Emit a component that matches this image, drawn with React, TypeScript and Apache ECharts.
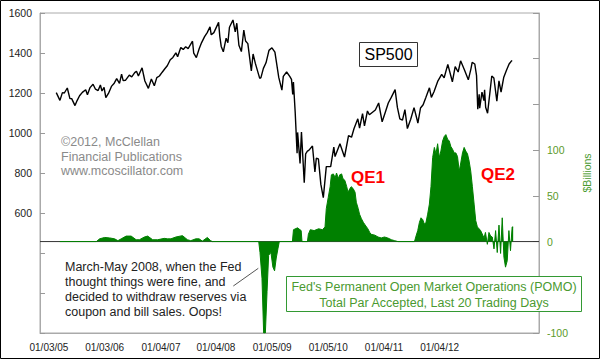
import React, { useEffect, useRef } from 'react';
import * as echarts from 'echarts';

// S&P 500 closes
const spDates = [
  '2005-01-03','2005-01-24','2005-02-07','2005-02-18','2005-03-07','2005-03-22','2005-04-01','2005-04-20',
  '2005-05-02','2005-05-16','2005-06-01','2005-06-20','2005-06-30','2005-07-15','2005-08-01','2005-08-15',
  '2005-08-30','2005-09-12','2005-09-21','2005-10-03','2005-10-13','2005-10-28','2005-11-14','2005-11-30',
  '2005-12-14','2005-12-30','2006-01-11','2006-01-20','2006-02-03','2006-02-24','2006-03-10','2006-03-27',
  '2006-04-06','2006-04-17','2006-05-08','2006-05-24','2006-06-13','2006-06-30','2006-07-17','2006-07-31',
  '2006-08-15','2006-08-31','2006-09-15','2006-09-29','2006-10-16','2006-10-31','2006-11-17','2006-11-27',
  '2006-12-15','2006-12-29','2007-01-12','2007-01-26','2007-02-20','2007-02-27','2007-03-14','2007-03-30',
  '2007-04-13','2007-04-30','2007-05-15','2007-05-31','2007-06-07','2007-06-22','2007-07-19','2007-07-26',
  '2007-08-03','2007-08-15','2007-08-31','2007-09-10','2007-09-19','2007-10-09','2007-10-22','2007-10-31',
  '2007-11-12','2007-11-26','2007-12-10','2007-12-20','2008-01-02','2008-01-22','2008-02-01','2008-02-14',
  '2008-03-10','2008-03-17','2008-03-31','2008-04-15','2008-05-02','2008-05-19','2008-06-05','2008-06-27',
  '2008-07-15','2008-07-23','2008-08-11','2008-08-29','2008-09-08','2008-09-15','2008-09-19','2008-09-29',
  '2008-10-10','2008-10-13','2008-10-27','2008-11-04','2008-11-20','2008-11-28','2008-12-08','2008-12-16',
  '2009-01-06','2009-01-20','2009-01-28','2009-02-09','2009-02-23','2009-03-09','2009-03-26','2009-04-20',
  '2009-05-08','2009-05-15','2009-06-12','2009-07-08','2009-07-31','2009-08-17','2009-08-31','2009-09-22',
  '2009-10-02','2009-10-19','2009-10-30','2009-11-16','2009-11-27','2009-12-31','2010-01-19','2010-02-08',
  '2010-02-26','2010-03-15','2010-04-01','2010-04-23','2010-05-06','2010-05-20','2010-06-04','2010-06-18',
  '2010-07-02','2010-07-21','2010-08-09','2010-08-27','2010-08-31','2010-09-15','2010-09-30','2010-10-15',
  '2010-11-05','2010-11-16','2010-12-01','2010-12-22','2011-01-14','2011-01-28','2011-02-18','2011-03-01',
  '2011-03-16','2011-04-01','2011-04-18','2011-05-02','2011-05-23','2011-06-15','2011-06-30','2011-07-07',
  '2011-07-22','2011-08-01','2011-08-08','2011-08-16','2011-08-19','2011-09-01','2011-09-12','2011-09-16',
  '2011-09-22','2011-10-03','2011-10-27','2011-11-08','2011-11-25','2011-12-07','2011-12-19','2012-01-03',
  '2012-01-19','2012-02-03','2012-02-17','2012-02-21'
];
const spValues = [
  1202,1163,1202,1200,1225,1172,1172,1137,
  1162,1186,1203,1216,1191,1227,1244,1219,
  1212,1240,1210,1228,1177,1198,1233,1249,
  1272,1248,1294,1262,1264,1289,1281,1302,
  1309,1285,1326,1260,1223,1270,1236,1277,
  1285,1304,1321,1336,1366,1378,1401,1381,
  1427,1418,1431,1422,1459,1399,1377,1421,
  1452,1482,1502,1531,1491,1502,1553,1482,
  1433,1406,1474,1451,1529,1565,1506,1549,
  1439,1407,1515,1460,1447,1310,1395,1348,
  1273,1277,1323,1351,1413,1426,1404,1278,
  1214,1283,1305,1283,1268,1193,1255,1106,
  899,1003,848,1005,752,896,909,913,
  935,805,874,870,743,677,832,832,
  929,882,946,880,987,979,1021,1071,
  1025,1097,1036,1110,1091,1115,1150,1056,
  1104,1150,1178,1217,1128,1071,1064,1117,
  1022,1069,1127,1065,1049,1125,1141,1176,
  1226,1178,1206,1258,1293,1276,1343,1306,
  1256,1332,1305,1361,1317,1266,1321,1353,
  1345,1287,1119,1193,1124,1204,1162,1216,
  1129,1099,1285,1275,1159,1261,1205,1277,
  1314,1345,1361,1362
];

// POMO, $ billions, last 20 trading days (date as decimal year)
const pomoYears = [
  2005.06,2005.633,2005.684,2005.762,2005.84,2005.918,2005.97,2006.021,2006.099,2006.177,
  2006.255,2006.306,2006.384,2006.436,2006.514,2006.592,2006.695,2006.747,2006.799,2006.877,
  2006.98,2007.058,2007.11,2007.188,2007.24,2007.291,2007.369,2007.421,2007.447,2008.173,
  2008.193,2008.224,2008.25,2008.277,2008.303,2008.328,2008.364,2008.395,2008.421,2008.447,
  2008.473,2008.495,2008.70,2008.717,2008.78,2008.837,2008.85,2008.935,2008.95,2008.98,
  2009.04,2009.11,2009.17,2009.21,2009.23,2009.26,2009.29,2009.31,2009.34,2009.37,
  2009.39,2009.42,2009.44,2009.47,2009.49,2009.52,2009.55,2009.57,2009.60,2009.62,
  2009.65,2009.68,2009.70,2009.73,2009.75,2009.78,2009.81,2009.83,2009.86,2009.88,
  2009.91,2009.93,2009.99,2010.04,2010.09,2010.14,2010.19,2010.25,2010.30,2010.35,
  2010.61,2010.634,2010.661,2010.687,2010.712,2010.739,2010.765,2010.79,2010.816,2010.843,
  2010.868,2010.894,2010.921,2010.946,2010.972,2010.998,2011.023,2011.05,2011.076,2011.101,
  2011.128,2011.154,2011.179,2011.205,2011.232,2011.257,2011.283,2011.31,2011.334,2011.361,
  2011.387,2011.412,2011.439,2011.465,2011.49,2011.516,2011.543,2011.568,2011.594,2011.621,
  2011.645,2011.698,2011.72,2011.75,2011.775,2011.801,2011.827,2011.854,2011.879,2011.905,
  2011.932,2011.957,2011.983,2012.009,2012.034,2012.061,2012.087,2012.112,2012.138,2012.154
];
const pomoValues = [
  0,0,3,4.5,4,3,1,3,6,6,
  2,2,5,6,2,2,3.5,3,3,5,
  6.5,2,1,3,3,0.5,4.5,1,0,0,
  -12,-40,-100,-100,-55,-15,-12,-28,-32,-18,
  -8,0,0,13,15,12,0,0,8,13,
  12,14,13,16,36,48,60,73,74,70,
  75,69,73,74,69,67,60,54,58,60,
  58,54,43,36,30,25,21,19,16,14,
  10,8,7,5,4,5,4,2,1,0,
  0,6,12,21,26,24,19,21,30,41,
  60,92,103,96,107,92,99,110,115,117,
  112,110,104,101,97,97,93,77,86,97,
  103,99,96,88,77,60,41,23,16,14,
  12,4,10,-3,10,6,5,-8,12,-12,
  18,-13,26,-17,-28,-21,12,-10,16,16
];

// x-axis tick labels and where they sit
const xLabelTexts = ['01/03/05','01/03/06','01/04/07','01/04/08','01/05/09','01/05/10','01/04/11','01/04/12'];
const xLabelYears = [2004.891, 2005.762, 2006.644, 2007.504, 2008.383, 2009.261, 2010.132, 2011.003];

const X_MIN = 2004.751;
const X_MAX = 2012.558;

function toYear(d: string): number {
  const [y, m, dd] = d.split('-').map(Number);
  const start = Date.UTC(y, 0, 1);
  const end = Date.UTC(y + 1, 0, 1);
  return y + (Date.UTC(y, m - 1, dd) - start) / (end - start);
}

const FONT = '"Liberation Sans", Arial, sans-serif';

export default function App() {
  const ref = useRef<HTMLDivElement>(null);
  useEffect(() => {
    document.body.style.margin = '0';
    if (!ref.current) return;
    const chart = echarts.init(ref.current, undefined, { renderer: 'svg' });
    const spData = spDates.map((d, i) => [toYear(d), spValues[i]]);
    const pomoData = pomoYears.map((y, i) => [y, pomoValues[i]]);
    const option: any = {
      animation: false,
      backgroundColor: '#fff',
      textStyle: { fontFamily: FONT },
      grid: { left: 40, right: 58, top: 13, bottom: 26, show: true, borderColor: '#aaa', borderWidth: 1 },
      xAxis: {
        type: 'value',
        min: X_MIN,
        max: X_MAX,
        axisLine: { show: true, lineStyle: { color: '#aaa' } },
        axisTick: { show: false },
        splitLine: { show: false },
        axisLabel: {
          customValues: xLabelYears,
          color: '#222',
          fontSize: 10,
          margin: 9,
          fontFamily: FONT,
          formatter: (v: number) => {
            const i = xLabelYears.findIndex((y) => Math.abs(y - v) < 0.001);
            return i >= 0 ? xLabelTexts[i] : '';
          },
        },
      },
      yAxis: [
        {
          type: 'value',
          min: 0,
          max: 1600,
          interval: 200,
          position: 'left',
          axisLine: { show: true, lineStyle: { color: '#aaa' } },
          axisTick: { show: true, inside: true, length: 5, lineStyle: { color: '#999' } },
          splitLine: { show: false },
          axisLabel: {
            color: '#222',
            fontSize: 10.5,
            margin: 8,
            fontFamily: FONT,
            formatter: (v: number) => (v >= 600 ? String(v) : ''),
          },
        },
        {
          type: 'value',
          min: -100,
          max: 250,
          interval: 50,
          position: 'right',
          name: '$Billions',
          nameLocation: 'middle',
          nameRotate: 90,
          nameGap: 42,
          nameTextStyle: { color: '#4a9a30', fontSize: 10.5, fontFamily: FONT },
          axisLine: { show: true, lineStyle: { color: '#aaa' } },
          axisTick: { show: true, inside: true, length: 6, lineStyle: { color: '#999' } },
          splitLine: { show: false },
          axisLabel: {
            color: '#5a9a2a',
            fontSize: 10.5,
            margin: 8,
            fontFamily: FONT,
            formatter: (v: number) => (v === -100 || v === 0 || v === 50 || v === 100 ? String(v) : ''),
          },
        },
      ],
      series: [
        {
          name: 'zero',
          type: 'line',
          yAxisIndex: 1,
          data: [[X_MIN, 0], [X_MAX, 0]],
          showSymbol: false,
          silent: true,
          lineStyle: { color: '#333', width: 1 },
          z: 1,
        },
        {
          name: 'POMO',
          type: 'line',
          yAxisIndex: 1,
          data: pomoData,
          showSymbol: false,
          silent: true,
          lineStyle: { color: '#008000', width: 1 },
          itemStyle: { color: '#008000' },
          areaStyle: { color: '#008000', opacity: 1 },
          z: 2,
        },
        {
          name: 'SP500',
          type: 'line',
          yAxisIndex: 0,
          data: spData,
          showSymbol: false,
          silent: true,
          lineStyle: { color: '#000', width: 1.4 },
          z: 3,
        },
      ],
      graphic: [
        {
          type: 'rect',
          silent: true,
          shape: { x: 0.5, y: 0.5, width: 599, height: 358 },
          style: { fill: 'none', stroke: '#000', lineWidth: 1 },
          z: 100,
        },
        {
          type: 'text',
          x: 61,
          y: 134.5,
          silent: true,
          style: {
            text: '©2012, McClellan\nFinancial Publications\nwww.mcoscillator.com',
            font: `12.5px ${FONT}`,
            fill: '#8a8a8a',
            lineHeight: 14.7,
            verticalAlign: 'top',
          },
        },
        {
          type: 'rect',
          silent: true,
          shape: { x: 359.5, y: 42.5, width: 58, height: 24 },
          style: { fill: '#fff', stroke: '#333', lineWidth: 1 },
          z: 50,
        },
        {
          type: 'text',
          x: 388.5,
          y: 54.5,
          silent: true,
          z: 51,
          style: { text: 'SP500', font: `16px ${FONT}`, fill: '#000', align: 'center', verticalAlign: 'middle' },
        },
        {
          type: 'text',
          x: 351,
          y: 177,
          silent: true,
          z: 51,
          style: { text: 'QE1', font: `bold 17px ${FONT}`, fill: '#ff0000', verticalAlign: 'middle' },
        },
        {
          type: 'text',
          x: 481,
          y: 174.5,
          silent: true,
          z: 51,
          style: { text: 'QE2', font: `bold 17px ${FONT}`, fill: '#ff0000', verticalAlign: 'middle' },
        },
        {
          type: 'text',
          x: 65,
          y: 259.5,
          silent: true,
          z: 51,
          style: {
            text: 'March-May 2008, when the Fed\nthought things were fine, and\ndecided to withdraw reserves via\ncoupon and bill sales. Oops!',
            font: `12.5px ${FONT}`,
            fill: '#222',
            lineHeight: 15,
            verticalAlign: 'top',
          },
        },
        {
          type: 'line',
          silent: true,
          z: 51,
          shape: { x1: 233.3, y1: 286, x2: 258.3, y2: 268.3 },
          style: { stroke: '#555', lineWidth: 1 },
        },
        {
          type: 'rect',
          silent: true,
          z: 50,
          shape: { x: 286.5, y: 276.5, width: 295, height: 35 },
          style: { fill: '#fff', stroke: '#339933', lineWidth: 1 },
        },
        {
          type: 'text',
          x: 434,
          y: 295,
          silent: true,
          z: 51,
          style: {
            text: "Fed's Permanent Open Market Operations (POMO)\nTotal Par Accepted, Last 20 Trading Days",
            font: `12.5px ${FONT}`,
            fill: '#4a9a30',
            lineHeight: 16.6,
            align: 'center',
            verticalAlign: 'middle',
          },
        },
      ],
    };
    chart.setOption(option);
    return () => chart.dispose();
  }, []);
  return <div ref={ref} style={{ width: 600, height: 359 }} />;
}
